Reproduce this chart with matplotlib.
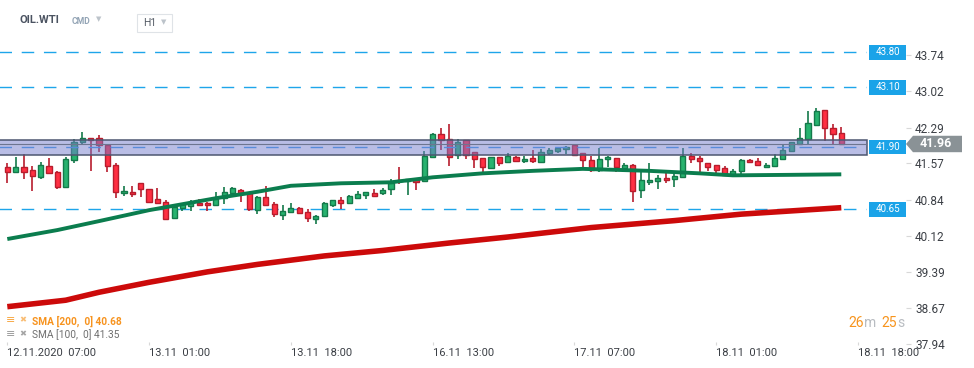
import numpy as np
import matplotlib
matplotlib.use('Agg')
import matplotlib.pyplot as plt
from matplotlib.patches import Rectangle, Polygon
from matplotlib.transforms import blended_transform_factory

plt.rcParams['font.family'] = ['Roboto', 'DejaVu Sans']

# OIL.WTI H1 candles, 12.11.2020 07:00 -> 18.11.2020
opens = [41.50, 41.40, 41.49, 41.43, 41.29, 41.51, 41.39, 41.09, 41.63, 41.99,
         42.09, 42.09, 41.93, 41.53, 40.97, 41.00, 41.17, 41.05, 40.85, 40.79,
         40.47, 40.67, 40.72, 40.78, 40.77, 40.73, 40.87, 40.97, 41.03, 40.97,
         40.63, 40.89, 40.75, 40.53, 40.59, 40.67, 40.59, 40.46, 40.52, 40.73,
         40.83, 40.77, 40.88, 40.94, 40.97, 40.97, 41.05, 41.23, 41.22, 41.24,
         41.21, 41.69, 42.16, 42.07, 41.74, 42.04, 41.79, 41.67, 41.48, 41.69,
         41.59, 41.69, 41.61, 41.67, 41.59, 41.77, 41.81, 41.85, 41.93, 41.77,
         41.63, 41.44, 41.65, 41.67, 41.48, 41.53, 41.03, 41.19, 41.21, 41.27,
         41.25, 41.29, 41.72, 41.67, 41.57, 41.53, 41.47, 41.33, 41.41, 41.63,
         41.61, 41.49, 41.51, 41.65, 41.81, 41.95, 42.07, 42.34, 42.64, 42.28,
         42.19]
highs = [41.57, 41.69, 41.76, 41.52, 41.59, 41.68, 41.42, 41.69, 42.07, 42.20,
         42.09, 42.14, 41.93, 41.57, 41.12, 41.12, 41.17, 41.06, 41.08, 40.83,
         40.72, 40.78, 40.83, 40.85, 40.80, 40.99, 41.09, 41.09, 41.05, 40.97,
         40.91, 41.12, 40.79, 40.73, 40.77, 40.69, 40.65, 40.53, 40.80, 40.83,
         40.89, 40.93, 41.01, 40.99, 41.06, 41.07, 41.25, 41.50, 41.25, 41.28,
         41.82, 42.19, 42.28, 42.36, 42.07, 42.04, 41.79, 41.67, 41.69, 41.69,
         41.77, 41.72, 41.72, 41.84, 41.86, 41.87, 41.89, 41.91, 41.94, 41.77,
         41.72, 41.87, 41.72, 41.67, 41.57, 41.56, 41.45, 41.58, 41.33, 41.37,
         41.42, 41.87, 41.77, 41.72, 41.57, 41.53, 41.51, 41.46, 41.65, 41.65,
         41.67, 41.57, 41.75, 41.95, 42.01, 42.28, 42.62, 42.68, 42.64, 42.36,
         42.30]
lows = [41.17, 41.37, 41.26, 41.01, 41.25, 41.37, 41.06, 41.09, 41.58, 41.93,
        41.42, 41.80, 41.40, 40.88, 40.91, 40.90, 40.90, 40.78, 40.77, 40.44,
        40.46, 40.62, 40.62, 40.73, 40.62, 40.73, 40.75, 40.97, 40.80, 40.62,
        40.55, 40.73, 40.49, 40.43, 40.59, 40.55, 40.39, 40.36, 40.52, 40.69,
        40.66, 40.77, 40.85, 40.85, 40.91, 40.93, 40.93, 41.15, 40.94, 41.04,
        41.21, 41.69, 41.84, 41.52, 41.66, 41.65, 41.48, 41.37, 41.46, 41.52,
        41.59, 41.61, 41.58, 41.57, 41.59, 41.74, 41.77, 41.75, 41.73, 41.50,
        41.39, 41.39, 41.50, 41.40, 41.40, 40.80, 40.87, 41.13, 41.05, 41.17,
        41.10, 41.29, 41.58, 41.37, 41.42, 41.37, 41.33, 41.33, 41.33, 41.57,
        41.51, 41.47, 41.51, 41.63, 41.81, 41.95, 41.95, 42.34, 42.03, 41.93,
        41.96]
closes = [41.40, 41.49, 41.39, 41.31, 41.53, 41.37, 41.09, 41.65, 42.01, 42.09,
          42.05, 41.93, 41.51, 40.99, 41.01, 40.95, 41.05, 40.80, 40.77, 40.45,
          40.70, 40.75, 40.78, 40.73, 40.73, 40.85, 41.00, 41.07, 40.97, 40.65,
          40.90, 40.73, 40.55, 40.62, 40.68, 40.57, 40.48, 40.51, 40.77, 40.83,
          40.77, 40.91, 40.95, 40.99, 40.92, 41.03, 41.18, 41.21, 41.25, 41.19,
          41.72, 42.17, 42.04, 41.70, 42.01, 41.74, 41.65, 41.50, 41.69, 41.58,
          41.72, 41.61, 41.65, 41.61, 41.79, 41.83, 41.87, 41.89, 41.74, 41.64,
          41.44, 41.65, 41.69, 41.50, 41.53, 41.01, 41.23, 41.23, 41.27, 41.23,
          41.31, 41.72, 41.65, 41.61, 41.49, 41.43, 41.33, 41.41, 41.63, 41.59,
          41.53, 41.54, 41.67, 41.83, 42.01, 42.09, 42.38, 42.62, 42.28, 42.17,
          41.96]

# moving averages at some candle positions
sma100_idx = [0, 6, 11, 17, 25, 30, 34, 40, 46, 51, 57, 63, 69, 71, 77, 83, 87, 94, 100]
sma100_val = [40.05, 40.23, 40.41, 40.63, 40.87, 41.00, 41.12, 41.17, 41.19, 41.29, 41.37,
              41.42, 41.46, 41.45, 41.42, 41.37, 41.33, 41.34, 41.35]
sma200_idx = [0, 7, 11, 17, 24, 30, 38, 45, 53, 60, 70, 80, 88, 100]
sma200_val = [38.69, 38.82, 38.98, 39.18, 39.39, 39.54, 39.71, 39.82, 39.97, 40.09,
              40.28, 40.42, 40.55, 40.68]

levels = [43.80, 43.10, 40.65]
zone_low, zone_high = 41.73, 42.05
zone_level = 41.90
last_price = 41.96
price_ticks = [43.74, 43.02, 42.29, 41.57, 40.84, 40.12, 39.39, 38.67, 37.94]
time_pos = [0, 17, 34, 51, 68, 85, 102]
time_labels = ['12.11.2020  07:00', '13.11  01:00', '13.11  18:00', '16.11  13:00',
               '17.11  07:00', '18.11  01:00', '18.11  18:00']

W, H = 974, 368


def fx(px):
    return px / W


def fy(py):
    return 1 - py / H


fig = plt.figure(figsize=(9.74, 3.68), dpi=100)
fig.patch.set_facecolor('white')
ax = fig.add_axes([0, fy(345), fx(906), fy(40) - fy(345)])

x = np.arange(len(opens))
o = np.array(opens)
c = np.array(closes)
up = c >= o
fill = np.where(up, '#27b36f', '#ff2f42')
edge = np.where(up, '#14794a', '#b71d2d')

ax.vlines(x, lows, highs, colors=edge, lw=1.2, zorder=2)
ax.bar(x, np.maximum(np.abs(c - o), 0.02), bottom=np.minimum(o, c), width=0.62,
       color=fill, edgecolor=edge, linewidth=1.0, zorder=3)

ax.plot(sma100_idx, sma100_val, color='#0b7d4e', lw=2.8, zorder=4, solid_capstyle='butt')
ax.plot(sma200_idx, sma200_val, color='#cc0a0a', lw=4.0, zorder=4, solid_capstyle='butt')

x_end = 103.0
ax.hlines(levels, -1, x_end, colors='#1ea5ea', lw=1.0, linestyles=(0, (9, 7)), zorder=1)
ax.hlines(zone_level, -1, x_end, colors='#3d9be9', lw=1.0, linestyles=(0, (9, 7)), zorder=4)
ax.add_patch(Rectangle((-1, zone_low), x_end + 1.1, zone_high - zone_low,
                       facecolor=(117 / 255, 125 / 255, 205 / 255, 0.5),
                       edgecolor='#4d5670', lw=1.1, zorder=5))
ax.hlines(last_price, -1, x_end, colors='#6d7590', lw=0.8, zorder=6)

ax.set_xlim(-0.875, 107.76)
ax.set_ylim(37.92, 44.05)

# right side labels
trans = blended_transform_factory(fig.transFigure, ax.transData)
for lv in levels + [zone_level]:
    ax.add_patch(Rectangle((fx(869), lv - 0.15), fx(37), 0.30, transform=trans,
                           facecolor='#1aa3e8', edgecolor='none', clip_on=False, zorder=7))
    ax.text(fx(887.5), lv, f'{lv:.2f}', transform=trans, color='white', fontsize=7,
            ha='center', va='center', clip_on=False, zorder=8)

tag = Polygon([(fx(906), last_price), (fx(913), last_price + 0.165), (fx(962), last_price + 0.165),
               (fx(962), last_price - 0.165), (fx(913), last_price - 0.165)],
              closed=True, transform=trans, facecolor='#8a9296', edgecolor='none',
              clip_on=False, zorder=7)
ax.add_patch(tag)
ax.text(fx(936), last_price, f'{last_price:.2f}', transform=trans, color='white',
        fontsize=9, weight='bold', ha='center', va='center', clip_on=False, zorder=8)

ax.yaxis.tick_right()
ax.set_yticks(price_ticks)
ax.set_yticklabels([f'{t:.2f}' for t in price_ticks])
ax.tick_params(axis='y', direction='out', length=3.6, width=0.8, color='#d8d8d8',
               labelsize=8.5, labelcolor='#3b3f45', pad=3)
ax.set_xticks(time_pos)
ax.set_xticklabels(time_labels, ha='left')
ax.tick_params(axis='x', direction='in', length=2.5, width=0.8, color='#d8d8d8',
               labelsize=8, labelcolor='#3b3f45', pad=2)
for s in ax.spines.values():
    s.set_visible(False)

# header
fig.text(fx(20), fy(20), 'OIL.WTI', weight='bold', fontsize=8, color='#4b5361', va='center')
fig.text(fx(72), fy(21), 'CMD', fontsize=6.2, weight='bold', color='#93a4b5', va='center')
fig.text(fx(96), fy(20), '▼', fontsize=5, color='#bcc3ca', va='center')
fig.add_artist(Rectangle((fx(137), fy(32)), fx(35), (32 - 14) / H, transform=fig.transFigure,
                         facecolor='white', edgecolor='#dfe3e7', lw=0.8))
fig.text(fx(143), fy(23.5), 'H1', fontsize=7.5, color='#555c66', va='center')
fig.text(fx(161), fy(23), '▼', fontsize=5, color='#bcc3ca', va='center')

# indicator legend
fig.text(fx(6), fy(320), '≡', fontsize=8, color='#f7a640', va='center')
fig.text(fx(19), fy(320), '✖', fontsize=6, color='#f9bd74', va='center')
fig.text(fx(32), fy(321.5), 'SMA [200,  0] 40.68', fontsize=7.3, weight='bold',
         color='#f7931e', va='center')
fig.text(fx(6), fy(334), '≡', fontsize=8, color='#9a9a9a', va='center')
fig.text(fx(19), fy(334), '✖', fontsize=6, color='#a5a5a5', va='center')
fig.text(fx(32), fy(335), 'SMA [100,  0] 41.35', fontsize=7.3, color='#6f6f6f', va='center')

# candle countdown
fig.text(fx(848), fy(323), '26', fontsize=10, color='#f7941d', va='center')
fig.text(fx(864), fy(323), 'm', fontsize=10, color='#b8bcc1', va='center')
fig.text(fx(881), fy(323), '25', fontsize=10, color='#f7941d', va='center')
fig.text(fx(897), fy(323), 's', fontsize=10, color='#b8bcc1', va='center')

fig.savefig('out.png', dpi=100)
